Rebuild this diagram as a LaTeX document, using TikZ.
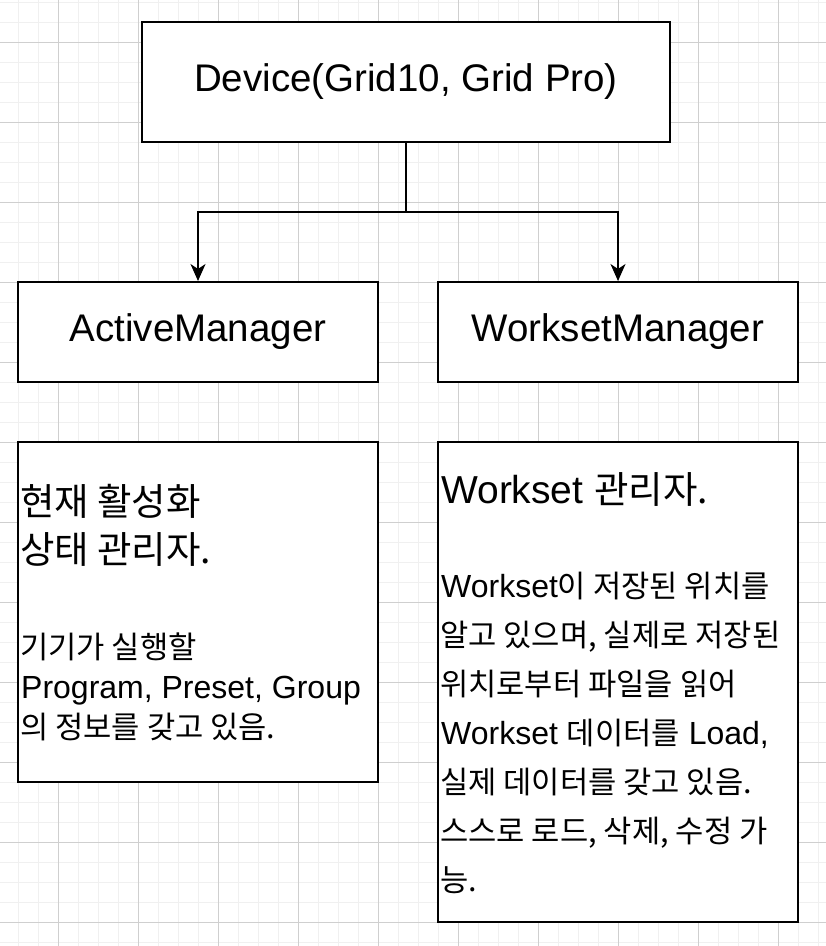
\documentclass[tikz,border=0pt]{standalone}
\usepackage{fontspec}
\setmainfont{Liberation Sans}
\newfontfamily\ko[Scale=0.96]{Noto Sans CJK KR}
\usetikzlibrary{arrows.meta}
\tikzset{
  box/.style={draw=black, line width=2pt, fill=white, inner sep=0pt, rectangle},
  title/.style={font=\fontsize{38.5}{46}\selectfont},
  head/.style={anchor=base west, inner sep=0pt, font=\fontsize{39}{48}\selectfont},
  body/.style={anchor=base west, inner sep=0pt, font=\fontsize{32}{48}\selectfont},
  arr/.style={line width=2pt, -{Stealth[length=17pt,width=15pt,inset=5pt]}},
}
\begin{document}
\begin{tikzpicture}[x=1pt,y=-1pt]
\useasboundingbox (0,0) rectangle (826,946);
\fill[white] (0,0) rectangle (826,946);
% grid
\foreach \x in {-2,18,...,826} \draw[color=black!6, line width=1pt] (\x,0) -- (\x,946);
\foreach \y in {2,22,...,946} \draw[color=black!6, line width=1pt] (0,\y) -- (826,\y);
\foreach \x in {58,138,...,826} \draw[color=black!19, line width=1pt] (\x,0) -- (\x,946);
\foreach \y in {42,122,...,946} \draw[color=black!19, line width=1pt] (0,\y) -- (826,\y);
% boxes
\node[box, title, minimum width=528pt, minimum height=120pt] (dev) at (406,82) {Device(Grid10, Grid Pro)};
\node[box, title, minimum width=360pt, minimum height=100pt] (am) at (198,332) {ActiveManager};
\node[box, title, minimum width=360pt, minimum height=100pt] (wm) at (618,332) {WorksetManager};
\node[box, minimum width=360pt, minimum height=340pt] (ab) at (198,612) {};
\node[box, minimum width=360pt, minimum height=480pt] (wb) at (618,682) {};
% connectors
\coordinate (j) at (406,212);
\draw[arr] (dev.south) -- (j) -| (am.north);
\draw[arr] (j) -| (wm.north);
% left text
\node[head] (a1) at (20,515) {\ko 현재 활성화};
\node[head] (a2) at (20,563) {\ko 상태 관리자.};
\node[body] (a3) at (20,658) {\ko 기기가 실행할};
\node[body] (a4) at (21,698) {Program, Preset, Group};
\node[body] (a5) at (20,738) {\ko 의 정보를 갖고 있음.};
% right text
\node[head] (b1) at (441,503) {Workset {\ko 관리자.}};
\node[body] (b2) at (441,597) {Workset{\ko 이 저장된 위치를}};
\node[body] (b3) at (440,646) {\ko 알고 있으며, 실제로 저장된};
\node[body] (b4) at (440,695) {\ko 위치로부터 파일을 읽어};
\node[body] (b5) at (441,744) {Workset {\ko 데이터를} Load,};
\node[body] (b6) at (440,793) {\ko 실제 데이터를 갖고 있음.};
\node[body] (b7) at (440,842) {\ko 스스로 로드, 삭제, 수정 가};
\node[body] (b8) at (440,891) {\ko 능.};
\end{tikzpicture}
\end{document}
